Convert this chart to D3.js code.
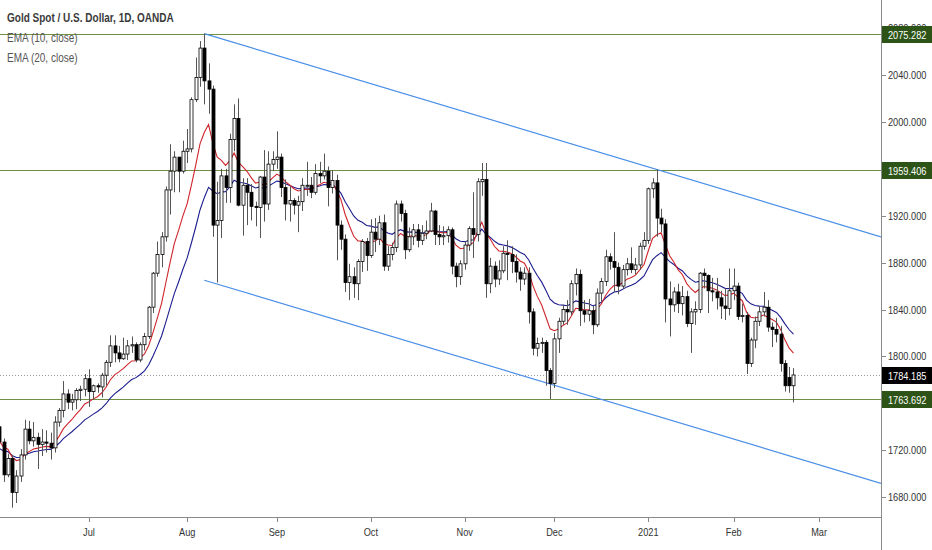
<!DOCTYPE html>
<html><head><meta charset="utf-8">
<script src="https://cdn.jsdelivr.net/npm/d3@7/dist/d3.min.js"></script>
<style>
html,body{margin:0;padding:0;background:#fff;}
svg{display:block;font-family:"Liberation Sans",Arial,sans-serif;}
</style></head>
<body><svg id="c" width="932" height="550"></svg>
<script>
// ---- data (daily bars, 2 Jun 2020 .. 19 Feb 2021) ----
const open = [
1740,1727,1699,1713,1684,1698,1716,1738,1728,1731,1725,1727,1726,1722,1744,1754,1768,1761,1763,1771,1772,
1781,1770,1775,1774,1784,1795,1809,1803,1798,1802,1809,1810,1797,1810,1817,1842,1871,1887,1902,1942,1958,1970,1958,
1975,1977,2019,2038,2063,2035,2028,1912,1916,1954,1944,1985,2003,1929,1946,1940,1928,1927,1953,1930,1964,
1968,1970,1944,1930,1933,1929,1932,1946,1946,1940,1956,1954,1958,1944,1950,1912,1900,1863,1868,1862,1881,1898,
1886,1906,1900,1914,1877,1887,1893,1930,1922,1891,1902,1908,1899,1905,1907,1924,1904,1902,1903,1908,1877,1868,
1879,1895,1909,1904,1949,1951,1862,1877,1866,1873,1888,1887,1881,1872,1866,1871,1838,1807,1811,1812,1788,
1777,1815,1830,1840,1838,1862,1870,1839,1836,1839,1827,1854,1864,1885,1881,1876,1860,1874,1879,1874,1878,1894,
1899,1943,1948,1918,1913,1849,1844,1855,1845,1851,1828,1838,1840,1871,1869,1856,1855,1850,1843,1841,
1856,1860,1834,1835,1794,1814,1830,1838,1842,1825,1823,1819,1794,1782,1775];
const high = [
1745,1730,1717,1716,1703,1721,1746,1745,1744,1735,1738,1737,1735,1749,1756,1779,1772,1768,1773,1775,1785,
1789,1776,1777,1786,1797,1818,1818,1809,1816,1814,1817,1812,1812,1820,1843,1872,1898,1906,1945,1981,1975,1970,1984,
1994,2021,2055,2069,2075.28,2050,2031,1949,1960,1960,1990,2015,2020,1952,1952,1947,1932,1954,1976,1975,1975,
1992,1973,1951,1945,1935,1937,1952,1966,1953,1964,1966,1973,1962,1959,1955,1916,1904,1879,1876,1883,1900,1901,
1917,1918,1920,1921,1894,1897,1933,1933,1925,1910,1913,1913,1912,1916,1931,1925,1912,1911,1911,1910,1880,1882,
1898,1911,1940,1952,1965,1965,1884,1881,1882,1894,1899,1894,1887,1876,1876,1876,1841,1816,1816,1814,1790,
1820,1833,1844,1848,1865,1875,1874,1848,1849,1843,1858,1867,1891,1888,1906,1880,1878,1884,1893,1884,1897,1906,
1944,1952,1959.41,1926,1917,1864,1859,1862,1860,1856,1841,1847,1872,1875,1870,1867,1867,1856,1858,1875,
1875,1863,1845,1838,1816,1834,1843,1855,1848,1829,1833,1826,1797,1791,1790];
const low = [
1720,1693,1697,1671,1675,1693,1712,1725,1723,1704,1715,1718,1712,1718,1740,1748,1755,1754,1755,1762,1766,
1757,1763,1769,1765,1775,1791,1795,1795,1797,1797,1803,1795,1795,1805,1815,1837,1868,1876,1898,1921,1940,1940,1956,
1965,1974,2017,2030,2015,2007,1902,1863,1901,1931,1931,1975,1928,1903,1912,1916,1911,1901,1915,1925,1958,
1960,1936,1916,1915,1921,1906,1924,1937,1935,1938,1948,1951,1928,1939,1882,1891,1855,1848,1850,1848,1872,1873,
1884,1889,1895,1873,1873,1882,1889,1915,1883,1889,1895,1893,1895,1900,1906,1895,1895,1895,1897,1870,1859,1861,
1874,1890,1884,1898,1937,1850,1854,1859,1861,1871,1865,1871,1863,1856,1861,1828,1801,1800,1803,1775,1763.69,
1773,1803,1827,1827,1835,1852,1826,1829,1830,1819,1825,1847,1860,1874,1855,1853,1858,1869,1871,1870,1874,1891,
1896,1935,1902,1906,1829,1817,1838,1837,1835,1825,1803,1827,1837,1858,1837,1847,1840,1832,1831,1835,
1848,1831,1829,1785,1791,1807,1826,1834,1821,1808,1812,1787,1770,1769,1760.8];
const close = [
1727,1699,1713,1684,1698,1716,1738,1728,1731,1725,1727,1726,1722,1744,1754,1768,1761,1763,1771,1772,1781,
1770,1775,1774,1784,1795,1809,1803,1798,1802,1809,1810,1797,1810,1817,1842,1871,1887,1902,1942,1958,1970,1958,1975,
1977,2019,2038,2063,2035,2028,1912,1916,1954,1944,1985,2003,1929,1946,1940,1928,1927,1953,1930,1964,1968,
1970,1944,1930,1933,1929,1932,1946,1946,1940,1956,1954,1958,1944,1950,1912,1900,1863,1868,1862,1881,1898,1886,
1906,1900,1914,1877,1887,1893,1930,1922,1891,1902,1908,1899,1905,1907,1924,1904,1902,1903,1908,1877,1868,1879,
1895,1909,1904,1949,1951,1862,1877,1866,1873,1888,1887,1881,1872,1866,1871,1838,1807,1811,1812,1788,1777,
1815,1830,1840,1838,1862,1870,1839,1836,1839,1827,1854,1864,1885,1881,1876,1860,1874,1879,1874,1878,1894,1899,
1943,1948,1918,1913,1849,1844,1855,1845,1851,1828,1838,1840,1871,1869,1856,1855,1850,1843,1841,1856,
1860,1834,1835,1794,1814,1830,1838,1842,1825,1823,1819,1794,1775,1775,1784.185];

// EMA values just before the first bar
const emaSeed = {10: 1728, 20: 1721};

// x-axis month labels and the bar index where each month starts
const monthLabels = ["Jul","Aug","Sep","Oct","Nov","Dec","2021","Feb","Mar"];
const monthBars   = [21, 44, 65, 87, 109, 130, 152, 172, 192];

// price axis ticks
const priceTicks = [1680,1720,1760,1800,1840,1880,1920,1960,2000,2040,2080];

// horizontal levels
const levels = [2075.282, 1959.406, 1763.692];
const lastPrice = 1784.185;

// parallel channel anchors (bar index, price)
const channelTop = [[48, 2075.28], [154, 1959.41]];
const channelBottomStart = [48, 1865];

// visible window
const viewBars = [0.157, 206.5];
const viewPrices = [1663.05, 2104.0];

// ---- drawing ----
const W = 932, H = 550, PW = 881, PH = 517;
const NARROW = 0.8;
const svg = d3.select("#c");
const x = d3.scaleLinear().domain(viewBars).range([0, PW]);
const y = d3.scaleLinear().domain(viewPrices).range([PH, 0]);

function condense(sel){
  sel.each(function(){
    const len = this.getComputedTextLength();
    if (len > 0) d3.select(this).attr("textLength", len*NARROW).attr("lengthAdjust","spacingAndGlyphs");
  });
}

svg.append("defs").append("clipPath").attr("id","clip")
  .append("rect").attr("x",0).attr("y",0).attr("width",PW).attr("height",PH);
const plot = svg.append("g").attr("clip-path","url(#clip)");

const bars = close.map((c,i)=>({i, o:open[i], h:high[i], l:low[i], c}));

// levels
plot.selectAll("line.level").data(levels).join("line")
  .attr("class","level")
  .attr("x1",0).attr("x2",PW)
  .attr("y1",d=>Math.round(y(d))+0.5).attr("y2",d=>Math.round(y(d))+0.5)
  .attr("stroke","#6f8f45").attr("stroke-width",1);

// last price dotted line
plot.append("line").attr("x1",0).attr("x2",PW)
  .attr("y1",Math.round(y(lastPrice))+0.5).attr("y2",Math.round(y(lastPrice))+0.5)
  .attr("stroke","#9a9a9a").attr("stroke-width",1).attr("stroke-dasharray","1,2");

// channel
const slope = (channelTop[1][1]-channelTop[0][1])/(channelTop[1][0]-channelTop[0][0]);
const endBar = viewBars[1];
const chan = [
  [channelTop[0], [endBar, channelTop[0][1] + (endBar-channelTop[0][0])*slope]],
  [channelBottomStart, [endBar, channelBottomStart[1] + (endBar-channelBottomStart[0])*slope]]
];
plot.selectAll("line.chan").data(chan).join("line")
  .attr("class","chan")
  .attr("x1",d=>x(d[0][0])).attr("y1",d=>y(d[0][1]))
  .attr("x2",d=>x(d[1][0])).attr("y2",d=>y(d[1][1]))
  .attr("stroke","#4a8fe7").attr("stroke-width",1.2);

// EMAs
function ema(n){
  const k = 2/(n+1); let prev = emaSeed[n];
  return close.map(c => (prev = c*k + prev*(1-k)));
}
const ema10 = ema(10), ema20 = ema(20);
const lineGen = d3.line().x((d,i)=>x(i)).y(d=>y(d));
plot.append("path").datum(ema20).attr("d",lineGen)
  .attr("fill","none").attr("stroke","#1c1c8f").attr("stroke-width",1.1);
plot.append("path").datum(ema10).attr("d",lineGen)
  .attr("fill","none").attr("stroke","#d0242a").attr("stroke-width",1.1);

// candles
const bw = 3;
const cg = plot.append("g");
cg.selectAll("line.wick").data(bars).join("line")
  .attr("class","wick")
  .attr("x1",d=>Math.round(x(d.i))+0.5).attr("x2",d=>Math.round(x(d.i))+0.5)
  .attr("y1",d=>y(d.h)).attr("y2",d=>y(d.l))
  .attr("stroke","#555").attr("stroke-width",1);
cg.selectAll("rect.body").data(bars).join("rect")
  .attr("class","body")
  .attr("x",d=>Math.round(x(d.i))-1)
  .attr("width",bw)
  .attr("y",d=>y(Math.max(d.o,d.c)))
  .attr("height",d=>Math.max(1, Math.abs(y(d.o)-y(d.c))))
  .attr("fill",d=>d.c>=d.o?"#fff":"#000")
  .attr("stroke","#000").attr("stroke-width",0.8);

// axes frame
svg.append("line").attr("x1",0).attr("x2",PW).attr("y1",PH+0.5).attr("y2",PH+0.5)
  .attr("stroke","#8a8a8a");
svg.append("line").attr("x1",PW+0.5).attr("x2",PW+0.5).attr("y1",0).attr("y2",H)
  .attr("stroke","#8a8a8a");

// x axis
const xa = svg.append("g");
xa.selectAll("line").data(monthBars).join("line")
  .attr("x1",d=>Math.round(x(d))+0.5).attr("x2",d=>Math.round(x(d))+0.5)
  .attr("y1",PH+1).attr("y2",PH+5).attr("stroke","#8a8a8a");
xa.selectAll("text").data(monthLabels).join("text")
  .attr("x",(d,i)=>x(monthBars[i])).attr("y",PH+19)
  .attr("text-anchor","middle").attr("font-size",11.5).attr("fill","#333")
  .text(d=>d).call(condense);

// y axis
const ya = svg.append("g");
ya.selectAll("line").data(priceTicks).join("line")
  .attr("x1",PW+1).attr("x2",PW+5)
  .attr("y1",d=>Math.round(y(d))+0.5).attr("y2",d=>Math.round(y(d))+0.5)
  .attr("stroke","#8a8a8a");
ya.selectAll("text").data(priceTicks).join("text")
  .attr("x",PW+7).attr("y",d=>y(d)+4)
  .attr("font-size",11.5).attr("fill","#333")
  .text(d=>d3.format(".3f")(d)).call(condense);

// price labels
const tags = levels.map(v=>({v, fill:"#2d5416"})).concat([{v:lastPrice, fill:"#000"}]);
const tg = svg.selectAll("g.tag").data(tags).join("g").attr("class","tag")
  .attr("transform",d=>`translate(${PW+1},${Math.round(y(d.v))-8})`);
tg.append("rect").attr("width",W-PW-1).attr("height",17).attr("fill",d=>d.fill);
tg.append("text").attr("x",6).attr("y",12.5).attr("font-size",11.5).attr("fill","#fff")
  .text(d=>d3.format(".3f")(d.v)).call(condense);

// legend
const lg = svg.append("g");
lg.append("text").attr("x",7).attr("y",22).attr("font-size",12.5).attr("font-weight","bold")
  .attr("fill","#3a3a3a").text("Gold Spot / U.S. Dollar, 1D, OANDA").call(condense);
lg.append("text").attr("x",7).attr("y",42).attr("font-size",12.5).attr("fill","#555")
  .text("EMA (10, close)").call(condense);
lg.append("text").attr("x",7).attr("y",62).attr("font-size",12.5).attr("fill","#555")
  .text("EMA (20, close)").call(condense);
</script>
</body></html>
